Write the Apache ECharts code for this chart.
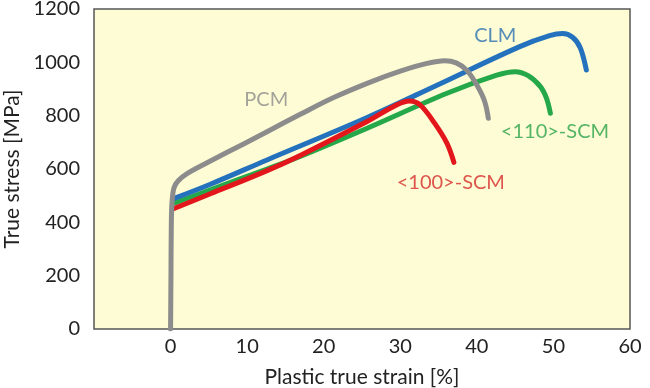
<!DOCTYPE html>
<html>
<head>
<meta charset="utf-8">
<script src="https://cdn.jsdelivr.net/npm/echarts@6/dist/echarts.min.js"></script>
<style>html,body{margin:0;padding:0;background:#fff}#c{width:650px;height:388px}</style>
</head>
<body>
<div id="c"></div>
<script>
var xTicks = [0, 10, 20, 30, 40, 50, 60];
var yTicks = [0, 200, 400, 600, 800, 1000, 1200];

var pcm = [[0,0],[0.05,200],[0.1,400],[0.2,480],[0.45,530],[1.0,556],[2.2,584],[5.2,630],[9.6,695],[12.6,740],[17,806],[21.3,868],[26,925],[30,967],[33.5,996],[35.8,1006],[37.3,998],[38.7,970],[40,915],[41,855],[41.5,790]];
var clm = [[0.3,488],[5.2,543],[12.6,634],[25.6,792],[35,917],[45.6,1059],[49.5,1100],[51.2,1108],[52.5,1094],[53.5,1055],[54.3,971]];
var scm110 = [[0.3,470],[5.2,522],[12.6,600],[17,648],[25.6,752],[36.1,884],[42.6,952],[45,965],[46.7,950],[48.3,909],[49.1,865],[49.6,809]];
var scm100 = [[0.3,450],[5.2,507],[12.6,594],[17,652],[25.6,777],[29.5,840],[31.2,855],[32.6,840],[34.5,771],[36.1,696],[37,625]];

var labelNames = ['CLM', 'PCM', '<110>-SCM', '<100>-SCM'];
var labelPos = [[42.4,1102],[12.5,862],[50.2,742],[36.6,551]];
var colors = ['#2472bd', '#8c8c8c', '#25a84a', '#e3161c'];
var labelColors = ['#2a6fb0', '#8c8c8c', '#2aa34a', '#d42a2a'];

var font = 'Lato, "Noto Sans", sans-serif';
function line(name, data, color, z) {
  return {
    name: name, type: 'line', data: data, smooth: 0.35,
    symbol: 'none', z: z,
    lineStyle: { color: color, width: 5, cap: 'round', join: 'round' }
  };
}
var chart = echarts.init(document.getElementById('c'));
chart.setOption({
  animation: false,
  grid: { left: 94, right: 20, top: 9, bottom: 59, show: true, containLabel: false,
          outerBoundsMode: 'none',
          backgroundColor: '#fefcd4', borderColor: '#555', borderWidth: 1.5 },
  xAxis: {
    type: 'value', min: -10, max: 60, interval: 10,
    name: 'Plastic true strain [%]', nameLocation: 'middle', nameGap: 38,
    nameTextStyle: { fontFamily: font, fontSize: 21, color: '#222' },
    axisLine: { show: false }, axisTick: { show: false }, splitLine: { show: false },
    axisLabel: { fontFamily: font, fontSize: 20, color: '#222', margin: 8,
      formatter: function (v) { return xTicks.indexOf(v) >= 0 ? String(v) : ''; } }
  },
  yAxis: {
    type: 'value', min: 0, max: 1200, interval: 200,
    name: 'True stress [MPa]', nameLocation: 'middle', nameGap: 68,
    nameTextStyle: { fontFamily: font, fontSize: 21, color: '#222' },
    axisLine: { show: false }, axisTick: { show: false }, splitLine: { show: false },
    axisLabel: { fontFamily: font, fontSize: 20, color: '#222', margin: 14,
      formatter: function (v) { return yTicks.indexOf(v) >= 0 ? String(v) : ''; } }
  },
  series: [
    line('<110>-SCM', scm110, colors[2], 2),
    line('CLM', clm, colors[0], 3),
    line('<100>-SCM', scm100, colors[3], 4),
    line('PCM', pcm, colors[1], 5),
    {
      type: 'scatter', symbolSize: 0, z: 6, silent: true,
      data: labelPos.map(function (p, i) { return { value: p, name: labelNames[i],
        label: { color: labelColors[i] } }; }),
      label: { show: true, position: 'inside', fontFamily: font, fontSize: 20,
        formatter: function (p) { return p.name; } }
    }
  ]
});
</script>
</body>
</html>
